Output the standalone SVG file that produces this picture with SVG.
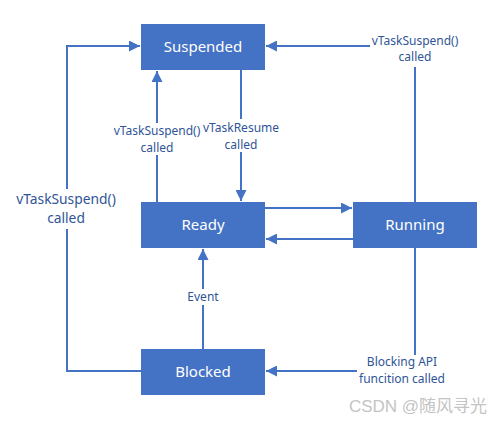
<svg xmlns="http://www.w3.org/2000/svg" width="501" height="423" viewBox="0 0 501 423">
<style>
.box{fill:#4472C4}
.nt{font-family:"Noto Sans","Open Sans",sans-serif;font-size:15px;fill:#fff;text-anchor:middle}
.lb{font-family:"Noto Sans","Open Sans",sans-serif;font-size:12px;fill:#2F5597;text-anchor:middle}
.ln{fill:none;stroke:#4472C4;stroke-width:2}
</style>
<defs>
<marker id="ah" viewBox="0 0 10 10" refX="10" refY="5" markerWidth="5.5" markerHeight="5.5" orient="auto" markerUnits="strokeWidth">
<path d="M0,0 L10,5 L0,10 Z" fill="#4472C4"/>
</marker>
</defs>
<rect width="501" height="423" fill="#fff"/>
<g id="connectors">
<path class="ln" d="M141,371 H67 V229 M67,189 V46 H140" marker-end="url(#ah)"/>
<path class="ln" d="M157,202 V155 M157,123 V71" marker-end="url(#ah)"/>
<path class="ln" d="M241,70 V119 M241,152 V201" marker-end="url(#ah)"/>
<path class="ln" d="M415,202 V67 M370,46 H266" marker-end="url(#ah)"/>
<path class="ln" d="M265,208 H352" marker-end="url(#ah)"/>
<path class="ln" d="M353,239 H266" marker-end="url(#ah)"/>
<path class="ln" d="M203,349 V305 M203,289 V249" marker-end="url(#ah)"/>
<path class="ln" d="M415,248 V355 M357,371 H266" marker-end="url(#ah)"/>
<text class="lb" x="66" y="204" style="font-size:13.8px">vTaskSuspend()</text>
<text class="lb" x="66" y="223" style="font-size:13.8px">called</text>
<text class="lb" x="157" y="135">vTaskSuspend()</text>
<text class="lb" x="157" y="152">called</text>
<text class="lb" x="241" y="132">vTaskResume</text>
<text class="lb" x="241" y="149">called</text>
<text class="lb" x="415" y="45">vTaskSuspend()</text>
<text class="lb" x="415" y="61">called</text>
<text class="lb" x="203" y="301">Event</text>
<text class="lb" x="402" y="366">Blocking API</text>
<text class="lb" x="402" y="383">funcition called</text>
</g>
<g id="suspended"><rect class="box" x="141" y="24" width="124" height="46"/><text class="nt" x="203" y="52">Suspended</text></g>
<g id="ready"><rect class="box" x="141" y="202" width="124" height="46"/><text class="nt" x="203" y="230">Ready</text></g>
<g id="running"><rect class="box" x="353" y="202" width="124" height="46"/><text class="nt" x="415" y="230">Running</text></g>
<g id="blocked"><rect class="box" x="141" y="349" width="124" height="46"/><text class="nt" x="203" y="377">Blocked</text></g>
<text x="418" y="412" font-family="'Liberation Sans','Noto Sans CJK SC',sans-serif" font-size="17" fill="#c4c4c4" text-anchor="middle">CSDN @随风寻光</text>
</svg>
